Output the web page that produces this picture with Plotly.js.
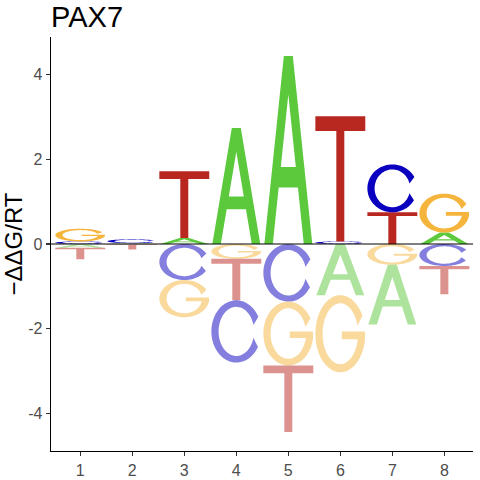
<!DOCTYPE html>
<html>
<head>
<meta charset="utf-8">
<script src="https://cdn.plot.ly/plotly-3.0.1.min.js"></script>
<style>html,body{margin:0;padding:0;background:#fff;}#chart{width:480px;height:480px;}</style>
</head>
<body>
<div id="chart"></div>
<script>
// ---- data ----
const positions = [1, 2, 3, 4, 5, 6, 7, 8];
const tickLabelsX = ['1', '2', '3', '4', '5', '6', '7', '8'];
const valuesA = [-0.09, 0.02, 0.14, 2.74, 4.44, -1.21, -1.41, 0.27];
const valuesC = [0.06, 0.09, -0.85, -1.47, -1.36, 0.06, 1.13, -0.52];
const valuesG = [0.30, -0.01, -0.88, -0.35, -1.51, -1.82, -0.49, 0.92];
const valuesT = [-0.27, -0.12, 1.58, -0.98, -1.57, 2.96, 0.75, -0.67];
const yTickVals = [-4, -2, 0, 2, 4];
const yTickText = ['-4', '-2', '0', '2', '4'];
const chartTitle = 'PAX7';
const yTitle = '\u2212\u0394\u0394G/RT';

// ---- styling ----
const letterColors = {A: '#5cc83c', C: '#0a00c0', G: '#f5b43c', T: '#b92820'};
const halfWidth = 0.48;

// ---- glyph outlines in a unit box ----
function arc(cx, cy, rx, ry, a0, a1, n) {
  const pts = [];
  for (let i = 0; i <= n; i++) {
    const t = (a0 + (a1 - a0) * i / n) * Math.PI / 180;
    pts.push([cx + rx * Math.cos(t), cy + ry * Math.sin(t)]);
  }
  return pts;
}
const RXO = 0.5, RYO = 0.5, RXI = 0.355, RYI = 0.395;
const glyphs = {
  A: [
    [[0.02, 0], [0.41, 1], [0.59, 1], [0.98, 0], [0.81, 0], [0.693, 0.30], [0.307, 0.30], [0.19, 0]],
    [[0.35, 0.41], [0.65, 0.41], [0.5, 0.795]]
  ],
  T: [
    [[0, 1], [1, 1], [1, 0.882], [0.58, 0.882], [0.58, 0], [0.42, 0], [0.42, 0.882], [0, 0.882]]
  ],
  C: [
    arc(0.5, 0.5, RXO, RYO, 28, 330, 60).concat(arc(0.5, 0.5, RXI, RYI, 345, 15, 60))
  ],
  G: [
    arc(0.5, 0.5, RXO, RYO, 28, 352, 60)
      .concat([[0.995, 0.53], [0.53, 0.53], [0.53, 0.43]])
      .concat(arc(0.5, 0.5, RXI, RYI, 349.8, 15, 60))
  ]
};

function glyphPath(letter, xc, y0, y1) {
  const x0 = xc - halfWidth, w = 2 * halfWidth, h = y1 - y0;
  return glyphs[letter].map(poly =>
    'M' + poly.map(p => (x0 + p[0] * w).toFixed(5) + ',' + (y0 + p[1] * h).toFixed(5)).join('L') + 'Z'
  ).join(' ');
}

const series = {A: valuesA, C: valuesC, G: valuesG, T: valuesT};
const shapes = [];
positions.forEach((pos, i) => {
  const entries = Object.keys(series).map(l => ({l: l, v: series[l][i]}));
  const pos_ = entries.filter(e => e.v > 0).sort((a, b) => a.v - b.v);
  const neg_ = entries.filter(e => e.v < 0).sort((a, b) => b.v - a.v);
  let top = 0;
  pos_.forEach(e => {
    shapes.push({type: 'path', xref: 'x', yref: 'y', path: glyphPath(e.l, pos, top, top + e.v),
      fillcolor: letterColors[e.l], fillrule: 'evenodd', line: {width: 0}, layer: 'below'});
    top += e.v;
  });
  let bot = 0;
  neg_.forEach(e => {
    shapes.push({type: 'path', xref: 'x', yref: 'y', path: glyphPath(e.l, pos, bot + e.v, bot),
      fillcolor: letterColors[e.l], opacity: 0.5, fillrule: 'evenodd', line: {width: 0}, layer: 'below'});
    bot += e.v;
  });
});
// zero line
shapes.push({type: 'line', xref: 'paper', yref: 'y', x0: 0, x1: 1, y0: 0, y1: 0,
  line: {color: '#000', width: 1.2}, layer: 'above'});

const fontFam = 'Liberation Sans, Arial, sans-serif';
const axisCommon = {
  showline: true, linecolor: '#000', linewidth: 1.3, mirror: false,
  ticks: 'outside', ticklen: 4, tickwidth: 1.1, tickcolor: '#333',
  tickfont: {family: fontFam, size: 16, color: '#4d4d4d'},
  showgrid: false, zeroline: false, fixedrange: true
};

const layout = {
  width: 480, height: 480,
  margin: {l: 51, r: 7, t: 37, b: 29},
  paper_bgcolor: '#fff', plot_bgcolor: '#fff',
  showlegend: false,
  title: {text: chartTitle, font: {family: fontFam, size: 29, color: '#000'},
    xref: 'container', x: 51 / 480, xanchor: 'left', yref: 'container', y: 1 - 17 / 480, yanchor: 'middle'},
  xaxis: Object.assign({}, axisCommon, {range: [0.437, 8.551], tickmode: 'array',
    tickvals: positions, ticktext: tickLabelsX}),
  yaxis: Object.assign({}, axisCommon, {range: [-4.89, 4.89], tickmode: 'array',
    tickvals: yTickVals, ticktext: yTickText,
    title: {text: yTitle, font: {family: fontFam, size: 24, color: '#000'}, standoff: 4}}),
  shapes: shapes
};

const trace = {x: positions, y: positions.map(() => 0), type: 'scatter', mode: 'markers',
  marker: {opacity: 0}, hoverinfo: 'skip'};

Plotly.newPlot('chart', [trace], layout, {staticPlot: true, displayModeBar: false});
</script>
</body>
</html>
